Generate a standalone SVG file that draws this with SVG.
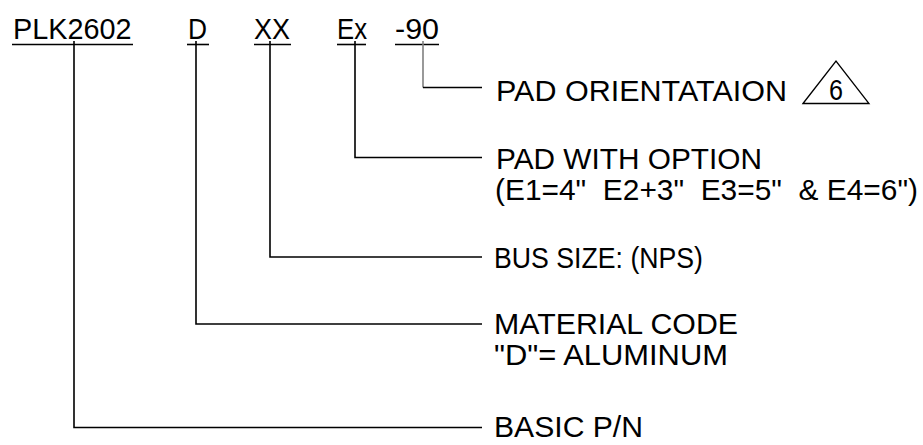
<svg xmlns="http://www.w3.org/2000/svg" width="923" height="445" viewBox="0 0 923 445">
<style>
text{font-family:"Liberation Sans",Arial,sans-serif;font-size:29px;fill:#000}
.ln{stroke:#000;stroke-width:1.6;fill:none}
.gr{stroke:#808080;stroke-width:1.6;fill:none}
</style>
<rect width="923" height="445" fill="#fff"/>
<g id="code">
<text x="13" y="38.5" textLength="118.5" lengthAdjust="spacingAndGlyphs">PLK2602</text>
<text x="188" y="38.5" textLength="19" lengthAdjust="spacingAndGlyphs">D</text>
<text x="254" y="38.5" textLength="36" lengthAdjust="spacingAndGlyphs">XX</text>
<text x="337" y="38.5" textLength="30" lengthAdjust="spacingAndGlyphs">Ex</text>
<text x="395" y="38.5" textLength="44" lengthAdjust="spacingAndGlyphs">-90</text>
<line class="ln" x1="12" y1="44.5" x2="133" y2="44.5"/>
<line class="ln" x1="187" y1="44.5" x2="209" y2="44.5"/>
<line class="ln" x1="254" y1="44.5" x2="291" y2="44.5"/>
<line class="ln" x1="337" y1="44.5" x2="366" y2="44.5"/>
<line class="ln" x1="395" y1="44.5" x2="439" y2="44.5"/>
</g>
<g id="connectors">
<polyline class="gr" points="423,41 423,87.5"/>
<polyline class="ln" points="423,87.5 482,87.5"/>
<polyline class="ln" points="355,41 355,157.5 482,157.5"/>
<polyline class="ln" points="270,41 270,257 482,257"/>
<polyline class="ln" points="196,41 196,324 482,324"/>
<polyline class="ln" points="74,41 74,427.5 482,427.5"/>
</g>
<g id="pad-orientation">
<text x="496" y="100.7" textLength="291" lengthAdjust="spacingAndGlyphs">PAD ORIENTATAION</text>
<polygon points="803,103.5 836,61 869,103.5" fill="none" stroke="#000" stroke-width="1.3"/>
<text x="829" y="99.5" textLength="14" lengthAdjust="spacingAndGlyphs">6</text>
</g>
<g id="pad-option">
<text x="496" y="168.5" textLength="266" lengthAdjust="spacingAndGlyphs">PAD WITH OPTION</text>
<text x="495" y="199.5" xml:space="preserve" textLength="423" lengthAdjust="spacingAndGlyphs">(E1=4"  E2+3"  E3=5"  &amp; E4=6")</text>
</g>
<g id="bus-size">
<text x="494" y="267.5" textLength="209" lengthAdjust="spacingAndGlyphs">BUS SIZE: (NPS)</text>
</g>
<g id="material">
<text x="494" y="333.5" textLength="244" lengthAdjust="spacingAndGlyphs">MATERIAL CODE</text>
<text x="494" y="364.5" textLength="234" lengthAdjust="spacingAndGlyphs">"D"= ALUMINUM</text>
</g>
<g id="basic">
<text x="494" y="436.5" textLength="149" lengthAdjust="spacingAndGlyphs">BASIC P/N</text>
</g>
</svg>
